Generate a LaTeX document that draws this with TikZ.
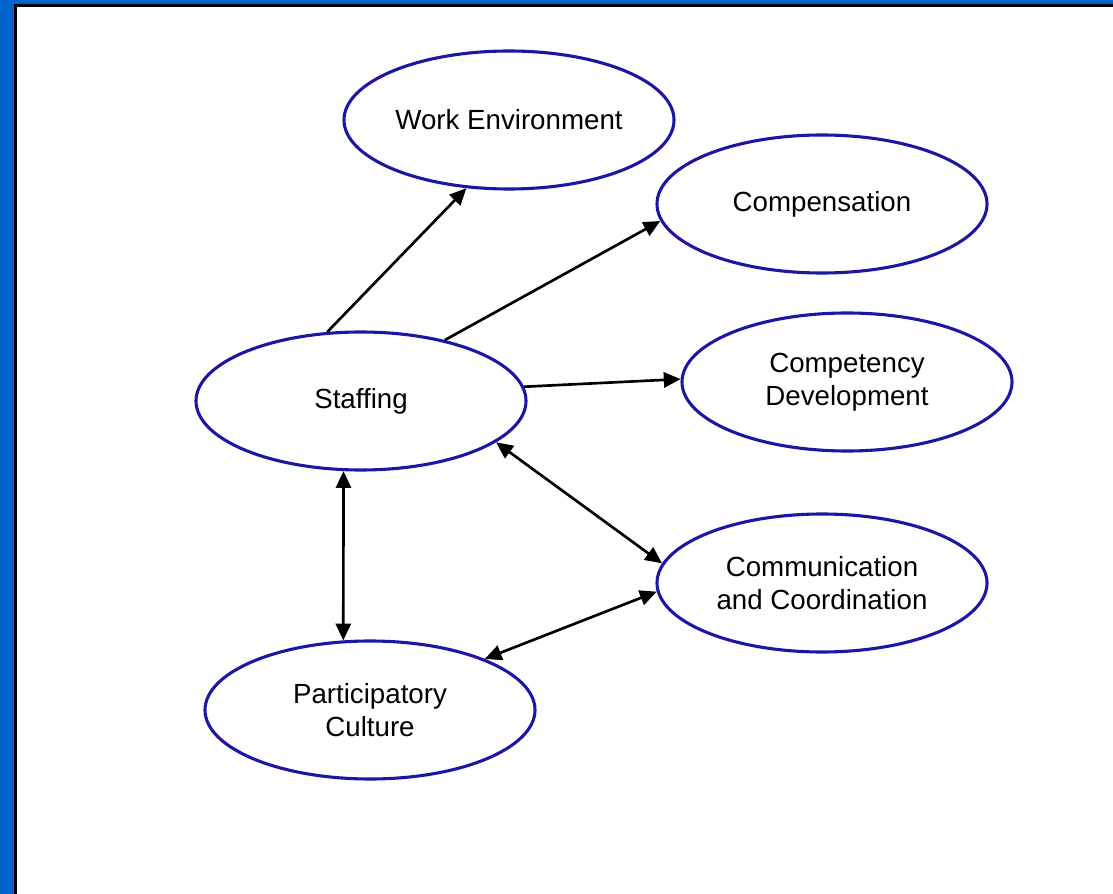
\documentclass[tikz,border=0pt]{standalone}
\usepackage{fontspec}
\setmainfont{Liberation Sans}
\usepackage{tikz}
\usetikzlibrary{shapes,arrows.meta}
\definecolor{slideblue}{RGB}{0,99,204}
\definecolor{ringblue}{RGB}{28,22,165}
\tikzset{
    factor/.style={
		ellipse, draw=ringblue, line width=2.2pt, fill=white,
		minimum width=8.25cm, minimum height=3.45cm, inner sep=0pt,
		align=center, font=\fontsize{19.7}{23.5}\selectfont
	}
}
\tikzset{
    link/.style={line width=1.9pt, -{Triangle[length=0.42cm,width=0.38cm]}},
    dlink/.style={line width=1.9pt, {Triangle[length=0.42cm,width=0.38cm]}-{Triangle[length=0.42cm,width=0.38cm]}}
}
\begin{document}
\begin{tikzpicture}
        \useasboundingbox (0,0) rectangle (27.825,-22.35);
        \fill[slideblue] (0,0) rectangle (27.825,-22.35);
        \fill[black] (0.35,-0.1) rectangle (27.825,-22.35);
        \fill[white] (0.415,-0.165) rectangle (27.825,-22.35);
        % factors
        \node[factor] (work) at (12.725,-3.0) {Work Environment};
        \node[factor] (comp) at (20.55,-5.1) {Compensation};
        \node[factor] (staff) at (9.025,-10.025) {Staffing};
        \node[factor] (dev) at (21.175,-9.55) {Competency\\Development};
        \node[factor] (comm) at (20.55,-14.575) {Communication\\and Coordination};
        \node[factor] (part) at (9.25,-17.75) {Participatory\\Culture};
        % links
        \draw[link] (staff.116) -- (work.238);
        \draw[link] (staff.36) -- (comp.186);
        \draw[link] (staff.5) -- (dev.179);
        \draw[dlink] (staff.343) -- (comm.173);
        \draw[dlink] (staff.256) -- (part.111);
        \draw[dlink] (part.24) -- (comm.183);
      \end{tikzpicture}
\end{document}
